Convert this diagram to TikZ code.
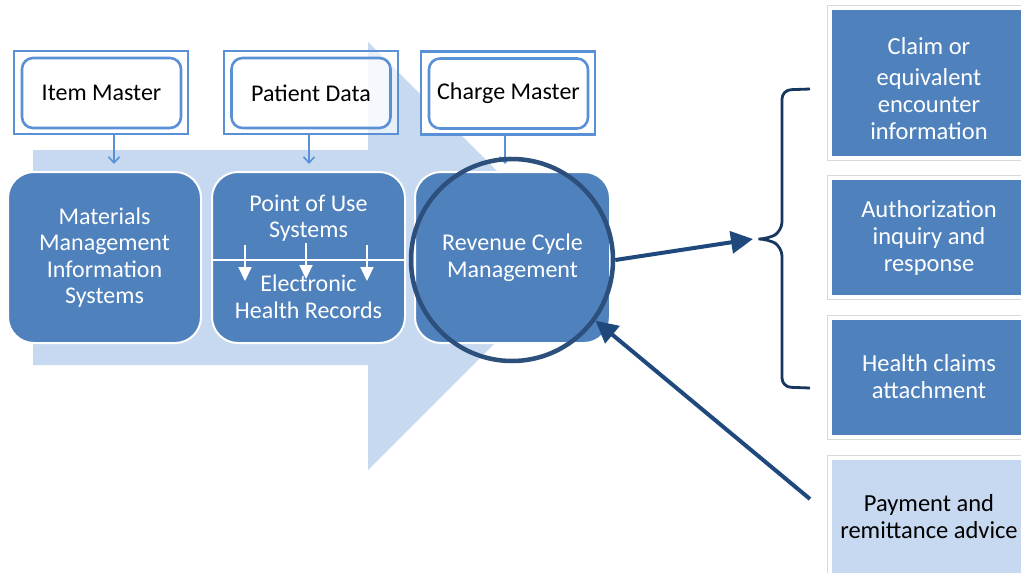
\documentclass[tikz,border=0pt]{standalone}
\usepackage{fontspec}
\setmainfont{Carlito}
\usetikzlibrary{arrows.meta}
\definecolor{lightarrow}{HTML}{C6D9F0}
\definecolor{boxblue}{HTML}{4F81BD}
\definecolor{frameblue}{HTML}{5A91D6}
\definecolor{circblue}{HTML}{2C4F7C}
\definecolor{darkarrow}{HTML}{1F497D}
\definecolor{bracecol}{HTML}{17375E}
\definecolor{grayline}{HTML}{D9D9D9}
\definecolor{paleblue}{HTML}{C6D9F1}
\newcommand\mysz{\fontsize{24}{26.5}\selectfont}
\newcommand\myszr{\fontsize{24.5}{27}\selectfont}
\tikzset{
  outerframe/.style={draw=frameblue, line width=2.6pt, fill=white, minimum width=174pt, minimum height=83pt, inner sep=0pt},
  innerbox/.style={draw=frameblue, line width=2.6pt, rounded corners=11pt, fill=white, minimum width=159pt, minimum height=70pt, inner sep=0pt, font=\mysz, text=black},
  mainbox/.style={draw=white, line width=2pt, fill=boxblue, rounded corners=26pt, minimum width=193pt, minimum height=171pt, inner sep=0pt, text=white, align=center, font=\mysz},
  smallarrow/.style={draw=frameblue, line width=1.6pt, -{Straight Barb[length=6pt,width=11pt]}},
  whitearrow/.style={draw=white, line width=2.2pt, -{Triangle[length=14pt,width=13pt]}},
  bigarrow/.style={draw=darkarrow, line width=4pt, -{Triangle[length=22pt,width=22pt]}},
  rightbox/.style={fill=boxblue, minimum width=193pt, inner sep=0pt},
  rtext/.style={text=white, align=center, font=\myszr, inner sep=0pt},
  grayframe/.style={draw=grayline, line width=1.2pt}
}
\begin{document}
\begin{tikzpicture}[x=1pt,y=-1pt]
\clip (0,0) rectangle (1021,573);
\fill[white] (0,0) rectangle (1021,573);

% big light arrow
\fill[lightarrow] (33,150) -- (368,150) -- (368,42) -- (582,256) -- (368,470) -- (368,365) -- (33,365) -- cycle;

% top boxes
\node[outerframe] (itemO) at (101,92.5) {};
\node[innerbox] (item) at (101.5,93) {Item Master};
\node[outerframe, fill opacity=0.6, text opacity=1] (patO) at (311,92.5) {};
\node[innerbox, fill opacity=0.6, text opacity=1] (pat) at (311,93) {Patient Data};
\node[outerframe] (chgO) at (508,93) {};
\node[innerbox] (chg) at (508.5,93.5) {Charge Master};

% main boxes
\node[mainbox] (mat) at (104.5,257.5) {Materials\\Management\\Information\\Systems};
\node[mainbox] (pou) at (308.5,257.5) {};
\node[text=white, align=center, font=\mysz, inner sep=0pt] (pout) at (308.5,218) {Point of Use\\Systems};
\node[text=white, align=center, font=\mysz, inner sep=0pt] (ehr) at (308.5,297) {Electronic\\Health Records};
\node[mainbox, minimum width=195pt] (rcm) at (512.5,257.5) {Revenue Cycle\\Management};

% divider and white arrows in point of use
\draw[white, line width=1.5pt] ([yshift=-2.5pt]pou.west) -- ([yshift=-2.5pt]pou.east);
\coordinate (w1a) at (245,245); \coordinate (w1b) at (245,281);
\coordinate (w2a) at (306,243); \coordinate (w2b) at (306,279);
\coordinate (w3a) at (367,245); \coordinate (w3b) at (367,281);
\draw[whitearrow] (w1a) -- (w1b);
\draw[whitearrow] (w2a) -- (w2b);
\draw[whitearrow] (w3a) -- (w3b);

% small arrows from top boxes
\coordinate (a1) at ([xshift=13pt]itemO.south);
\coordinate (a2) at ([xshift=-2pt]patO.south);
\coordinate (a3) at ([xshift=-3pt]chgO.south);
\draw[smallarrow, shorten >=7pt] (a1) -- (a1 |- mat.north);
\draw[smallarrow, shorten >=7pt] (a2) -- (a2 |- pou.north);
\draw[smallarrow, shorten >=7pt] (a3) -- (a3 |- rcm.north);

% circle
\node[draw=circblue, line width=4.5pt, circle, minimum size=202pt, inner sep=0pt] (circ) at (512,260) {};

% right boxes
\node[rightbox, minimum height=146pt] (claim) at (928.5,83) {};
\draw[grayframe] ([shift={(-4pt,4pt)}]claim.north west) rectangle ([shift={(4pt,-4pt)}]claim.south east);
\node[rtext] (claimt) at (929,89) {Claim or\\[4pt]equivalent\\encounter\\information};

\node[rightbox, minimum height=115pt] (auth) at (928.5,237.5) {};
\draw[grayframe] ([shift={(-4pt,4pt)}]auth.north west) rectangle ([shift={(4pt,-4pt)}]auth.south east);
\node[rtext] (autht) at (929,237.5) {Authorization\\inquiry and\\response};

\node[rightbox, minimum height=115pt] (hca) at (928.5,377.5) {};
\draw[grayframe] ([shift={(-4pt,4pt)}]hca.north west) rectangle ([shift={(4pt,-4pt)}]hca.south east);
\node[rtext] (hcat) at (929,376.5) {Health claims\\attachment};

\node[rightbox, fill=paleblue, minimum height=130pt] (pay) at (928.5,525) {};
\draw[grayframe] ([shift={(-4pt,4pt)}]pay.north west) rectangle ([shift={(4pt,-4pt)}]pay.south east);
\node[rtext, text=black] (payt) at (929,516.5) {Payment and\\remittance advice};

% brace
\coordinate (btip) at (753,239);
\draw[bracecol, line width=2.8pt, rounded corners=9pt]
  (810,89) -- (782,90) -- (782,231) -- (768,239) -- (btip) -- (768,239) -- (782,247) -- (782,387) -- (810,388);

% arrows
\draw[bigarrow] (circ.east) -- (btip);
\coordinate (paytail) at (810,499);
\draw[bigarrow] (paytail) -- (circ.-36);
\end{tikzpicture}
\end{document}
